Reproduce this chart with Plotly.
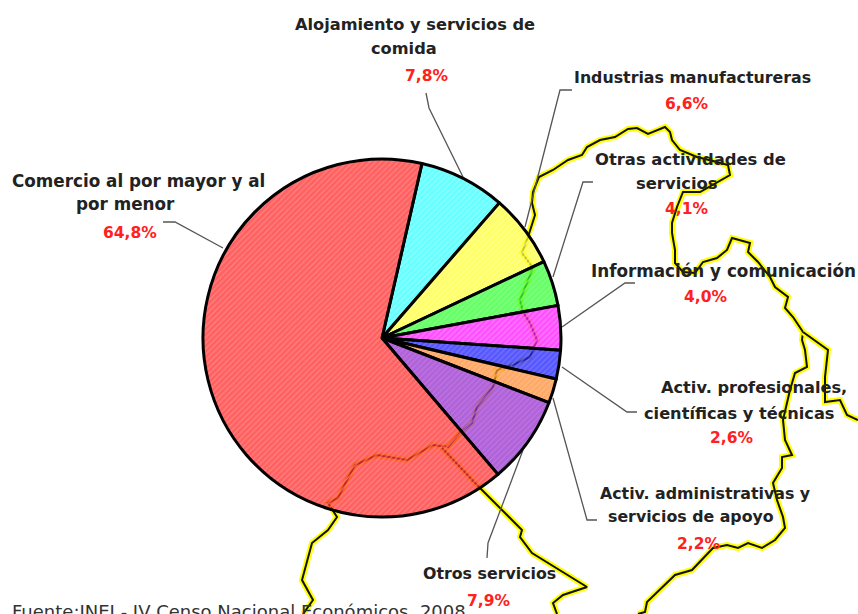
import plotly.graph_objects as go

# Pie data (percent of total), drawn clockwise starting at the cyan slice
categories = ["Alojamiento y servicios de comida", "Industrias manufactureras",
              "Otras actividades de servicios", "Información y comunicación",
              "Activ. profesionales, científicas y técnicas",
              "Activ. administrativas y servicios de apoyo", "Otros servicios",
              "Comercio al por mayor y al por menor"]
values = [7.8, 6.6, 4.1, 4.0, 2.6, 2.2, 7.9, 64.8]
bg_colors = ["rgba(50,255,255,0.75)", "rgba(255,255,50,0.75)", "rgba(50,255,50,0.75)", "rgba(255,20,255,0.75)",
             "rgba(30,30,255,0.75)", "rgba(255,140,50,0.75)", "rgba(150,45,205,0.75)", "rgba(255,42,42,0.75)"]
fg_colors = ["#a0ffff", "#ffffa0", "#90ff90", "#ff90ff",
             "#8080ff", "#ffc090", "#c080e0", "#ff9090"]

# Labels: text, x, y in picture pixels
name_text = ["Alojamiento y servicios de", "comida", "Industrias manufactureras",
             "Otras actividades de", "servicios", "Información y comunicación",
             "Activ. profesionales,", "científicas y técnicas",
             "Activ. administrativas y", "servicios de apoyo", "Otros servicios",
             "Comercio al por mayor y al", "por menor"]
name_x = [415, 404, 692, 690, 677, 723, 754, 739, 705, 691, 489, 138, 125]
name_y = [24, 48, 77, 159, 183, 271, 387, 413, 493, 516, 573, 181, 204]
pct_text = ["7,8%", "6,6%", "4,1%", "4,0%", "2,6%", "2,2%", "7,9%", "64,8%"]
pct_x = [426, 686, 686, 705, 731, 698, 488, 130]
pct_y = [76, 104, 209, 297, 438, 544, 601, 233]
# the reference font is wider on some lines than DejaVu, so sizes differ a bit
name_size = [16.2, 16.2, 15.8, 16.4, 16.4, 16.8, 16.2, 16.2, 15.8, 15.8, 15.8, 16.8, 16.8]

# Leader lines
leaders = [
    ([163, 175, 223], [222, 222, 248]),
    ([426, 429, 463], [93, 108, 177]),
    ([572, 560, 525], [90, 90, 227]),
    ([593, 583, 553], [182, 182, 277]),
    ([635, 625, 562], [283, 283, 327]),
    ([637, 627, 562], [412, 412, 367]),
    ([597, 587, 553], [520, 520, 398]),
    ([487, 488, 523], [558, 543, 450]),
]

# Map outline behind the pie
border_main_x = [303, 313, 302, 312, 328, 337, 328, 338, 347, 355, 377, 393, 407, 433, 448, 460, 472, 477, 493, 497,
                 513, 530, 537, 530, 523, 520, 533, 522, 528, 535, 532, 533, 539, 553, 568, 582, 587, 600, 615, 628,
                 637, 648, 665, 670, 672, 680, 697, 717, 728, 730, 713, 700, 683, 677, 672, 672, 675, 675, 683, 695,
                 703, 717, 727, 732, 750, 748, 758, 770, 775, 788, 785, 793, 803, 802, 805, 807, 795, 790, 783, 785,
                 792, 782, 782, 773, 777, 783, 785, 775, 762, 748, 738, 727, 713, 700, 692, 675, 660, 647, 645, 638]
border_main_y = [614, 600, 580, 543, 530, 517, 503, 498, 480, 465, 455, 458, 460, 445, 447, 433, 423, 407, 387, 370,
                 365, 357, 340, 323, 312, 300, 268, 253, 237, 215, 203, 192, 177, 170, 160, 155, 147, 140, 137, 129,
                 128, 134, 127, 132, 140, 150, 157, 162, 165, 175, 185, 192, 192, 207, 223, 233, 250, 263, 272, 273,
                 262, 258, 250, 238, 243, 252, 262, 277, 287, 297, 308, 317, 332, 340, 350, 367, 373, 390, 420, 440,
                 455, 457, 468, 483, 500, 517, 528, 540, 548, 543, 548, 545, 548, 562, 570, 575, 590, 602, 612, 614]
border_east_x = [803, 827, 828, 825, 825, 840, 847, 858]
border_east_y = [332, 350, 350, 377, 402, 400, 415, 420]
border_south_x = [442, 477, 522, 520, 532, 587, 563, 553, 557]
border_south_y = [448, 485, 530, 537, 553, 587, 595, 603, 614]

fig = go.Figure()

for bx, by in [(border_main_x, border_main_y), (border_east_x, border_east_y), (border_south_x, border_south_y)]:
    fig.add_trace(go.Scatter(x=bx, y=by, mode="lines", line=dict(color="#ffff00", width=6), hoverinfo="skip"))
    fig.add_trace(go.Scatter(x=bx, y=by, mode="lines", line=dict(color="#111111", width=2), hoverinfo="skip"))

for lx, ly in leaders:
    fig.add_trace(go.Scatter(x=lx, y=ly, mode="lines", line=dict(color="#555555", width=1.3), hoverinfo="skip"))

fig.add_trace(go.Pie(
    labels=categories,
    values=values,
    sort=False,
    direction="clockwise",
    rotation=12.9,
    textinfo="none",
    marker=dict(
        colors=bg_colors,
        line=dict(color="black", width=3),
        pattern=dict(shape="/", size=4, solidity=0.3, fgcolor=fg_colors, fgopacity=0.7, bgcolor=bg_colors),
    ),
    domain=dict(x=[(382 - 179) / 858, (382 + 179) / 858], y=[1 - 517 / 614, 1 - 159 / 614]),
))

for t, x, y, s in zip(name_text, name_x, name_y, name_size):
    fig.add_annotation(x=x, y=y, text=t, showarrow=False, xref="x", yref="y",
                       font=dict(family="DejaVu Sans", size=s, color="#222222", weight="bold"))
for t, x, y in zip(pct_text, pct_x, pct_y):
    fig.add_annotation(x=x, y=y, text=t, showarrow=False, xref="x", yref="y",
                       font=dict(family="DejaVu Sans", size=15.5, color="#ff2020", weight="bold"))
fig.add_annotation(x=10, y=611, text="Fuente:INEI - IV Censo Nacional Económicos, 2008", showarrow=False,
                   xanchor="left", xref="x", yref="y", font=dict(family="DejaVu Sans", size=18, color="#333333"))

fig.update_layout(
    width=858,
    height=614,
    margin=dict(l=0, r=0, t=0, b=0),
    showlegend=False,
    paper_bgcolor="white",
    plot_bgcolor="white",
    xaxis=dict(range=[0, 858], visible=False),
    yaxis=dict(range=[614, 0], visible=False),
)

fig.write_html("out.html", config=dict(displayModeBar=False),
               post_script="document.body.style.margin='0';document.body.style.overflow='hidden';")
